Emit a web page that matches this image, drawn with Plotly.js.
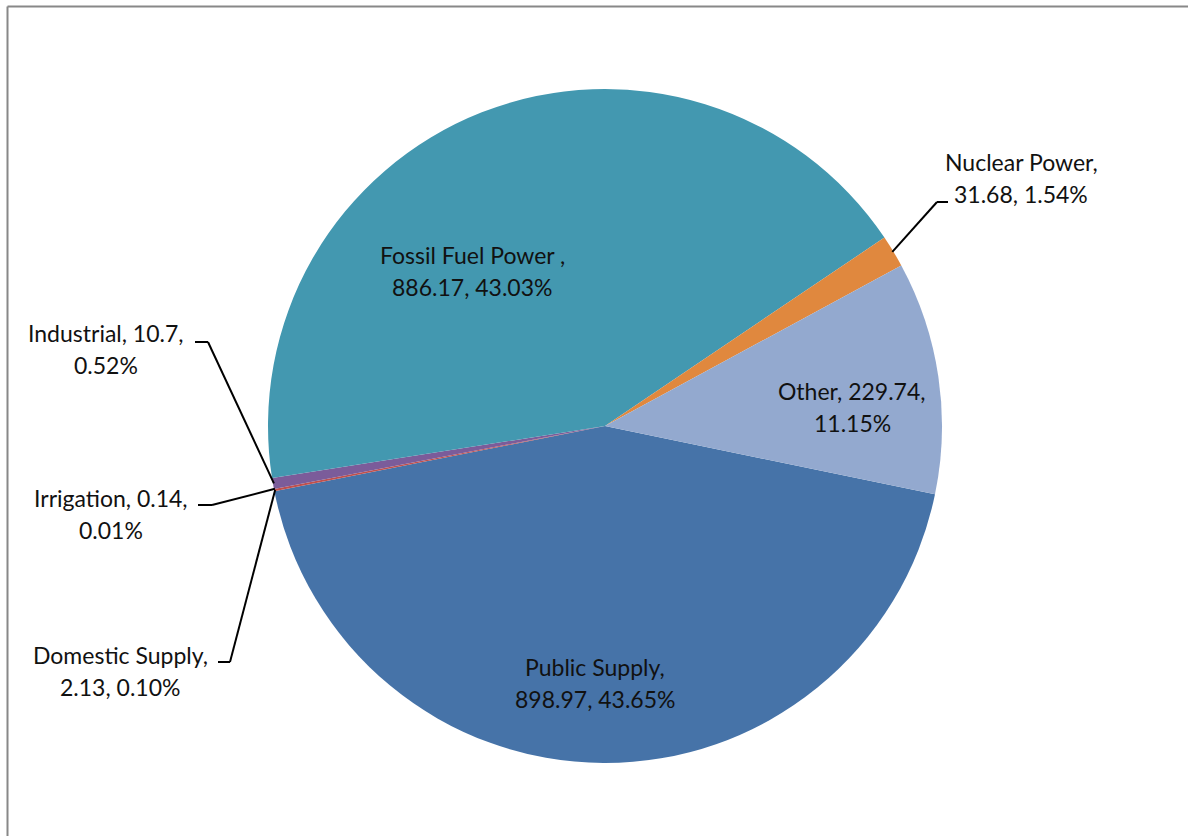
<!DOCTYPE html>
<html>
<head>
<meta charset="utf-8">
<script src="https://cdn.plot.ly/plotly-3.0.1.min.js"></script>
<style>html,body{margin:0;padding:0;background:#fff;}#chart{width:1188px;height:836px;}</style>
</head>
<body>
<div id="chart"></div>
<script>
// ---- data (clockwise order, starting just below 3 o'clock) ----
const categories = ["Public Supply", "Domestic Supply", "Irrigation", "Industrial", "Fossil Fuel Power ", "Nuclear Power", "Other"];
const values = [898.97, 2.13, 0.14, 10.7, 886.17, 31.68, 229.74];
const colors = ["#4673A8", "#C0504D", "#9BBB59", "#7B5C9A", "#4398B0", "#E0883E", "#93A9CF"];
// number of comma-separated parts on the first label line
const firstLineParts = [1, 1, 2, 2, 1, 1, 2];

// ---- layout settings ----
const W = 1188, H = 836;
const cx = 605, cy = 426, R = 337;
const rotation = 101.7;
const lineGap = 32;
const fontSize = 23;
// label placement: [x center, y of first line] and leader tick [x far, x near, y] (null = none)
const labelPos = [[595, 667], [120, 655], [111, 498], [106, 333], [472, 255], [1021, 162], [852, 391]];
const leaderTick = [null, [218, 230, 662], [198, 212, 505], [195, 208, 342], null, [948, 937, 202], null];

const px = x => x / W;
const py = y => 1 - y / H;

const total = values.reduce((a, b) => a + b, 0);
const pcts = values.map(v => (v / total * 100).toFixed(2) + "%");

const annotations = [];
const shapes = [];
let cum = 0;
values.forEach((v, i) => {
  const parts = [categories[i], String(v), pcts[i]];
  const n = firstLineParts[i];
  const l1 = parts.slice(0, n).join(", ") + ",";
  const l2 = parts.slice(n).join(", ");
  const [lx, ly] = labelPos[i];
  [l1, l2].forEach((t, k) => {
    annotations.push({
      x: px(lx), y: py(ly + k * lineGap), xref: "paper", yref: "paper",
      text: t, showarrow: false, xanchor: "center", yanchor: "middle",
      font: {family: "Lato, 'Open Sans', sans-serif", size: fontSize, color: "#111"}
    });
  });
  // mid angle of slice, clockwise from 12 o'clock
  const mid = (rotation + (cum + v / 2) / total * 360) * Math.PI / 180;
  cum += v;
  const tk = leaderTick[i];
  if (tk) {
    const tipX = cx + (R - 1) * Math.sin(mid);
    const tipY = cy - (R - 1) * Math.cos(mid);
    shapes.push({type: "line", xref: "paper", yref: "paper",
      x0: px(tk[0]), y0: py(tk[2]), x1: px(tk[1]), y1: py(tk[2]),
      line: {color: "#000", width: 2}});
    shapes.push({type: "line", xref: "paper", yref: "paper",
      x0: px(tk[1]), y0: py(tk[2]), x1: px(tipX), y1: py(tipY),
      line: {color: "#000", width: 2}});
  }
});

// chart frame (left and top edges visible)
shapes.push({type: "line", xref: "paper", yref: "paper", x0: px(7.5), y0: py(6.5), x1: px(7.5), y1: py(900), line: {color: "#888", width: 2}});
shapes.push({type: "line", xref: "paper", yref: "paper", x0: px(7.5), y0: py(6.5), x1: px(1300), y1: py(6.5), line: {color: "#888", width: 2}});

const trace = {
  type: "pie",
  labels: categories,
  values: values,
  sort: false,
  direction: "clockwise",
  rotation: rotation,
  marker: {colors: colors, line: {width: 0}},
  textinfo: "none",
  hoverinfo: "label+value+percent",
  domain: {x: [px(cx - R), px(cx + R)], y: [py(cy + R), py(cy - R)]},
  showlegend: false
};

Plotly.newPlot("chart", [trace], {
  width: W, height: H,
  margin: {l: 0, r: 0, t: 0, b: 0},
  paper_bgcolor: "#fff",
  showlegend: false,
  annotations: annotations,
  shapes: shapes
}, {displayModeBar: false, staticPlot: true});
</script>
</body>
</html>
